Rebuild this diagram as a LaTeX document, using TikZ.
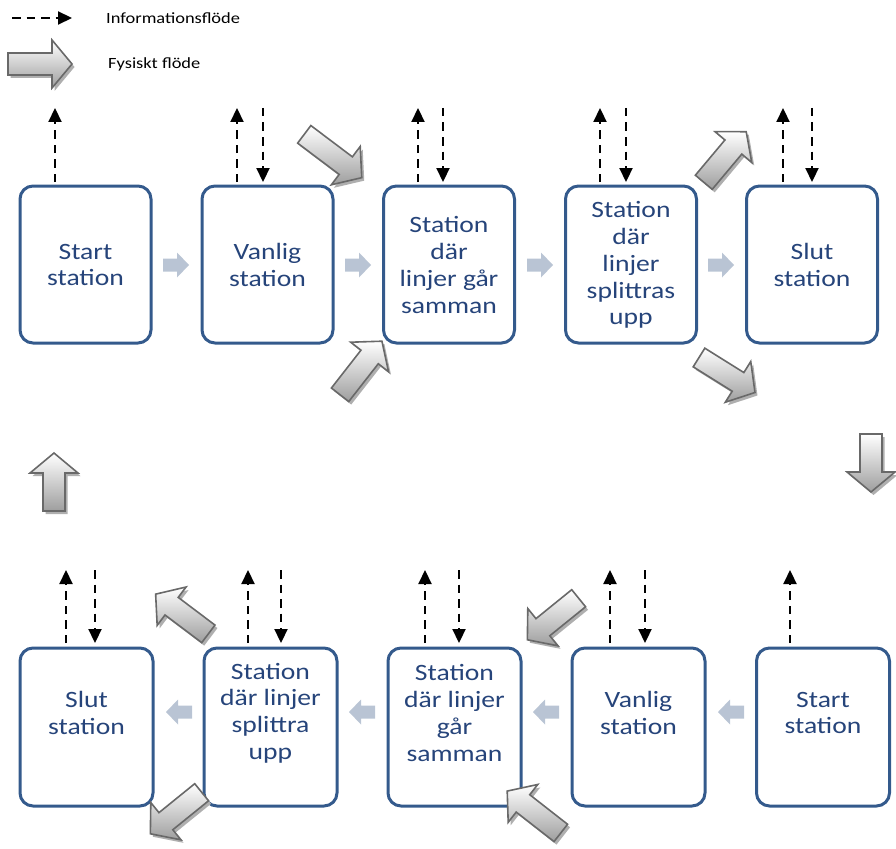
\documentclass[tikz,border=0pt]{standalone}
\usepackage{fontspec}
\setmainfont{Carlito}
\newfontfamily\boxfont[FakeStretch=1.18]{Carlito}
\usetikzlibrary{arrows.meta}
\definecolor{boxline}{RGB}{52,90,140}
\definecolor{boxtext}{RGB}{38,68,122}
\definecolor{smallarr}{RGB}{185,196,212}
\definecolor{fatline}{RGB}{105,105,105}
\definecolor{fatshadow}{RGB}{175,175,175}
\tikzset{
  station/.style={draw=boxline, line width=3pt, rounded corners=13pt, minimum height=157pt, inner sep=0pt},
  stext/.style={text=boxtext, font=\boxfont\fontsize{23.4}{26.8}\selectfont, align=center, inner sep=0pt},
  legtext/.style={font=\boxfont\fontsize{15.6}{18}\selectfont, anchor=west, inner sep=0pt},
  info/.style={dash pattern=on 8.5pt off 6pt, line width=2.2pt, -{Triangle[width=13pt,length=14pt]}},
  fatstyle/.style={draw=fatline, line width=1.6pt, top color=white, bottom color=black!38, line join=miter},
  fatshade/.style={fill=fatshadow},
  smallstyle/.style={fill=smallarr}
}
% x, y, angle, length
\newcommand\physarrow[4]{%
  \fill[fatshade, shift={(#1+2.5,#2+3)}, rotate=#3]
    ({-#4/2},-11) -- ({#4/2-20},-11) -- ({#4/2-20},-24) -- ({#4/2},0) -- ({#4/2-20},24) -- ({#4/2-20},11) -- ({-#4/2},11) -- cycle;
  \path[fatstyle, shift={(#1,#2)}, rotate=#3]
    ({-#4/2},-11) -- ({#4/2-20},-11) -- ({#4/2-20},-24) -- ({#4/2},0) -- ({#4/2-20},24) -- ({#4/2-20},11) -- ({-#4/2},11) -- cycle;
}
\newcommand\flowarrow[3]{%
  \fill[smallstyle, shift={(#1,#2)}, rotate=#3]
    (-13,-6.5) -- (1,-6.5) -- (1,-12.5) -- (13,0) -- (1,12.5) -- (1,6.5) -- (-13,6.5) -- cycle;
}
\begin{document}
\begin{tikzpicture}[x=1pt,y=-1pt]
\useasboundingbox (0,0) rectangle (896,848);

% legend
\coordinate (lg1) at (12,18);
\coordinate (lg2) at (72,18);
\draw[info] (lg1) -- (lg2);
\node[legtext] (legi) at (106,18) {Informationsflöde};
\physarrow{40}{64}{0}{64}
\node[legtext] (legf) at (108,64) {Fysiskt flöde};

% top row
\node[station, minimum width=131pt] (t1) at (85.5,264.5) {};
\node[station, minimum width=131pt] (t2) at (267.5,264.5) {};
\node[station, minimum width=131pt] (t3) at (449,264.5) {};
\node[station, minimum width=131pt] (t4) at (631,264.5) {};
\node[station, minimum width=131pt] (t5) at (812,264.5) {};
\node[stext] (tt1) at (85.5,265) {Start\\station};
\node[stext] (tt2) at (267.5,265) {Vanlig\\station};
\node[stext] (tt3) at (449,265) {Station\\där\\linjer går\\samman};
\node[stext] (tt4) at (631,265) {Station\\där\\linjer\\splittras\\upp};
\node[stext] (tt5) at (812,265) {Slut\\station};

% bottom row
\node[station, minimum width=133pt, minimum height=158pt] (b1) at (86.5,727) {};
\node[station, minimum width=133pt, minimum height=158pt] (b2) at (270.5,727) {};
\node[station, minimum width=133pt, minimum height=158pt] (b3) at (454.5,727) {};
\node[station, minimum width=133pt, minimum height=158pt] (b4) at (638.5,727) {};
\node[station, minimum width=133pt, minimum height=158pt] (b5) at (823,727) {};
\node[stext] (bt1) at (86.5,713) {Slut\\station};
\node[stext] (bt2) at (270.5,713) {Station\\där linjer\\splittra\\upp};
\node[stext] (bt3) at (454.5,713) {Station\\där linjer\\går\\samman};
\node[stext] (bt4) at (638.5,713) {Vanlig\\station};
\node[stext] (bt5) at (823,713) {Start\\station};

% information flow, top row (up arrows)
\foreach \x [count=\i] in {55,237,418,600,783}{
  \coordinate (tu\i s) at (\x,182);
  \coordinate (tu\i e) at (\x,108);
  \draw[info] (tu\i s) -- (tu\i e);
}
\foreach \x [count=\i] in {263,443,626,812}{
  \coordinate (td\i s) at (\x,108);
  \coordinate (td\i e) at (\x,182);
  \draw[info] (td\i s) -- (td\i e);
}
% information flow, bottom row
\foreach \x [count=\i] in {66,248,425,610,790}{
  \coordinate (bu\i s) at (\x,643);
  \coordinate (bu\i e) at (\x,570);
  \draw[info] (bu\i s) -- (bu\i e);
}
\foreach \x [count=\i] in {95,281,459,645}{
  \coordinate (bd\i s) at (\x,570);
  \coordinate (bd\i e) at (\x,643);
  \draw[info] (bd\i s) -- (bd\i e);
}

% small flow arrows between stations
\flowarrow{176}{265}{0}
\flowarrow{358}{265}{0}
\flowarrow{540}{265}{0}
\flowarrow{721}{265}{0}
\flowarrow{179}{712}{180}
\flowarrow{362}{712}{180}
\flowarrow{546}{712}{180}
\flowarrow{731}{712}{180}

% physical flow arrows
\physarrow{333}{156}{-37}{72}
\physarrow{361}{368}{52}{68}
\physarrow{725}{157}{50}{66}
\physarrow{727}{375}{-32}{66}
\physarrow{871}{463}{-90}{58}
\physarrow{54}{482}{90}{58}
\physarrow{182}{614}{143}{66}
\physarrow{176}{813}{-141}{66}
\physarrow{534}{812}{142}{68}
\physarrow{553}{619}{-141}{66}
\end{tikzpicture}
\end{document}
